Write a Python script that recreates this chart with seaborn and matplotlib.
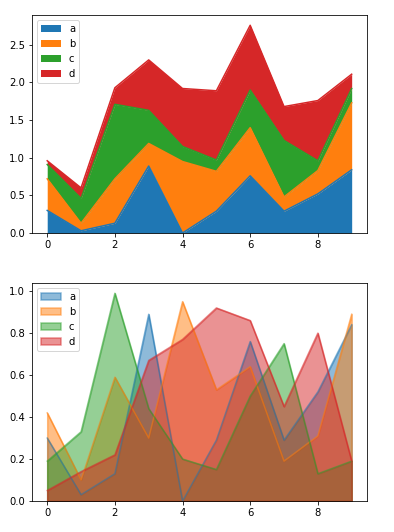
import matplotlib
matplotlib.use("Agg")
import matplotlib.pyplot as plt
import numpy as np
import pandas as pd
import seaborn as sns

INDEX = list(range(10))
A = [0.30, 0.03, 0.13, 0.89, 0.00, 0.29, 0.76, 0.29, 0.52, 0.84]
B = [0.42, 0.10, 0.59, 0.30, 0.95, 0.53, 0.64, 0.19, 0.31, 0.89]
C = [0.19, 0.33, 0.99, 0.44, 0.20, 0.15, 0.50, 0.75, 0.13, 0.19]
D = [0.05, 0.14, 0.22, 0.67, 0.77, 0.92, 0.86, 0.45, 0.80, 0.19]
COLUMNS = ["a", "b", "c", "d"]

df = pd.DataFrame({"a": A, "b": B, "c": C, "d": D}, index=INDEX)
colors = sns.color_palette("tab10", 4)

fig = plt.figure(figsize=(394 / 72, 532 / 72), dpi=72)
ax1 = fig.add_axes([0.0812, 0.562, 0.850, 0.410])
ax2 = fig.add_axes([0.0812, 0.0583, 0.850, 0.410])

# stacked
cum = df.cumsum(axis=1)
prev = np.zeros(len(df))
for col, color in zip(COLUMNS, colors):
    top = cum[col].values
    sns.lineplot(x=df.index, y=top, color=color, ax=ax1, linewidth=1.5)
    ax1.fill_between(df.index, prev, top, color=color, label=col, linewidth=0)
    prev = top
ax1.set_ylim(bottom=0)
ax1.legend(loc="upper left")

# unstacked, transparent
for col, color in zip(COLUMNS, colors):
    sns.lineplot(x=df.index, y=df[col], color=color, alpha=0.5, ax=ax2, linewidth=1.5)
    ax2.fill_between(df.index, 0, df[col], facecolor=color, edgecolor=color,
                     alpha=0.5, label=col, linewidth=1.5)
ax2.set_ylim(bottom=0)
ax2.legend(loc="upper left")

for ax in (ax1, ax2):
    ax.set_xticks([0, 2, 4, 6, 8])
    ax.set_xlabel("")
    ax.set_ylabel("")

fig.savefig("out.png", dpi=72)
